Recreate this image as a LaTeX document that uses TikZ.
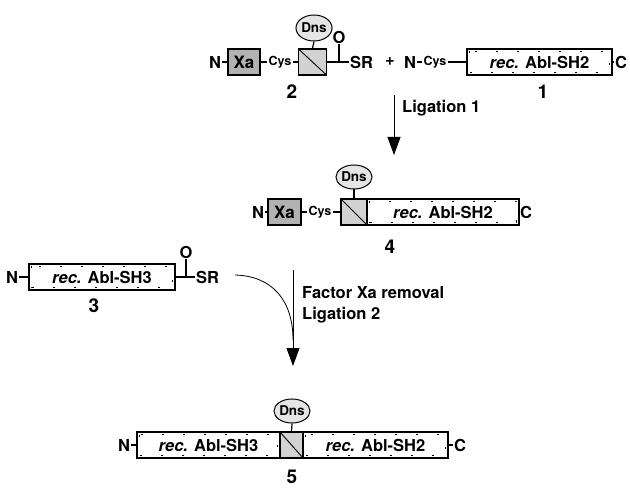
\documentclass[tikz,border=0pt]{standalone}
\usepackage{fontspec}
\setmainfont{TeX Gyre Heros}
\usepackage{tikz}
\usetikzlibrary{arrows.meta, shapes.geometric}

\begin{document}
\begin{tikzpicture}[x=1pt, y=-1pt, >={Triangle[length=18pt, width=13pt]},
    every node/.style={font=\fontsize{16.5}{18}\selectfont\bfseries, inner sep=1pt},
    cys/.style={font=\fontsize{12.5}{14}\selectfont\bfseries},
    num/.style={font=\fontsize{19}{21}\selectfont\bfseries},
    xabox/.style={draw, line width=1.2pt, fill=gray!60, minimum width=32pt, minimum height=26pt, inner sep=0pt,
        font=\fontsize{17}{19}\selectfont\bfseries},
    hbox/.style={draw, line width=1.2pt, fill=gray!35, minimum width=28pt, minimum height=26pt, inner sep=0pt,
        path picture={\draw[line width=0.9pt] (path picture bounding box.north west) -- (path picture bounding box.south east);}},
    recbox/.style={draw, line width=1.2pt, fill=white, minimum height=26pt, inner sep=0pt,
        path picture={\draw[line width=0.9pt, dash pattern=on 2pt off 19pt]
            ([shift={(2.5pt,-2.5pt)}]path picture bounding box.north west) rectangle
            ([shift={(-2.5pt,2.5pt)}]path picture bounding box.south east);}},
    dns/.style={ellipse, draw, line width=1pt, fill=gray!20, minimum width=31pt, minimum height=24pt, inner sep=0pt,
        font=\fontsize{13.5}{15}\selectfont\bfseries},
    bond/.style={line width=1.2pt}]
\useasboundingbox (0,0) rectangle (630,492);

% Verbindung 2
\node (n2) at (215,62) {N};
\node[xabox] (xa2) at (244,62) {Xa};
\node[cys] (cys2) at (280,62) {Cys};
\node[hbox] (h2) at (312.5,62) {};
\node[dns, minimum width=33pt, minimum height=26pt] (d2) at (314,28) {Dns};
\coordinate (c2) at (339,62);
\node (o2) at (339,37) {O};
\node[anchor=west] (sr2) at (349,62) {SR};
\node (plus) at (390,62) {+};
\node[num] (l2) at (292,92) {2};
\draw[bond] (n2.east) -- (xa2.west);
\draw[bond] (xa2.east) -- (cys2.west);
\draw[bond] (cys2.east) -- (h2.west);
\draw[bond] (d2.south) -- (h2.north);
\draw[bond] (h2.east) -- (sr2.west);
\draw[bond] (c2) -- (o2.south);

% Verbindung 1
\node (n1) at (410,62) {N};
\node[cys] (cys1) at (435,62) {Cys};
\node[recbox, minimum width=145pt] (r1) at (539.5,62) {\textit{rec.} Abl-SH2};
\node (ct1) at (621,62) {C};
\node[num] (l1) at (543,92) {1};
\draw[bond] (n1.east) -- (cys1.west);
\draw[bond] (cys1.east) -- (r1.west);
\draw[bond] (r1.east) -- (ct1.west);

% Ligation 1
\coordinate (a1s) at (394,95);
\coordinate (a1e) at (394,155);
\draw[->, thick] (a1s) -- (a1e);
\node[anchor=west] (lig1) at (401,108) {Ligation 1};

% Verbindung 4
\node (n4) at (258,212) {N};
\node[xabox, minimum width=33pt] (xa4) at (284.5,212) {Xa};
\node[cys] (cys4) at (320,212) {Cys};
\node[hbox, minimum width=26pt] (h4) at (354,212) {};
\node[dns] (d4) at (354,177) {Dns};
\node[recbox, minimum width=152pt] (r4) at (443,212) {\textit{rec.} Abl-SH2};
\node (ct4) at (526,212) {C};
\node[num] (l4) at (390,247) {4};
\draw[bond] (n4.east) -- (xa4.west);
\draw[bond] (xa4.east) -- (cys4.west);
\draw[bond] (cys4.east) -- (h4.west);
\draw[bond] (d4.south) -- (h4.north);
\draw[bond] (r4.east) -- (ct4.west);

% Verbindung 3
\node (n3) at (12,277) {N};
\node[recbox, minimum width=146pt] (r3) at (102,277) {\textit{rec.} Abl-SH3};
\coordinate (c3) at (186,277);
\node (o3) at (186,252) {O};
\node[anchor=west] (sr3) at (195,277) {SR};
\node[num] (l3) at (94,306) {3};
\draw[bond] (n3.east) -- (r3.west);
\draw[bond] (r3.east) -- (sr3.west);
\draw[bond] (c3) -- (o3.south);

% Faktor Xa / Ligation 2
\coordinate (a2s) at (293,270);
\coordinate (a2e) at (293,366);
\coordinate (cv) at (235,275);
\draw[->, thick] (a2s) -- (a2e);
\draw[thick] (cv) .. controls (272,276) and (293,300) .. (293,340);
\node[anchor=west] (fxa) at (301,293) {Factor Xa removal};
\node[anchor=west] (lig2) at (301,315) {Ligation 2};

% Verbindung 5
\node (n5) at (124,445) {N};
\node[recbox, minimum width=143pt] (r5a) at (208.5,445) {\textit{rec.} Abl-SH3};
\node[hbox, minimum width=23pt] (h5) at (291.5,445) {};
\node[recbox, minimum width=145pt] (r5b) at (375.5,445) {\textit{rec.} Abl-SH2};
\node (ct5) at (460,445) {C};
\node[dns, minimum width=29pt, minimum height=24pt] (d5) at (292,411) {Dns};
\node[num] (l5) at (292,477) {5};
\draw[bond] (n5.east) -- (r5a.west);
\draw[bond] (d5.south) -- (h5.north);
\draw[bond] (r5b.east) -- (ct5.west);
\end{tikzpicture}
\end{document}
